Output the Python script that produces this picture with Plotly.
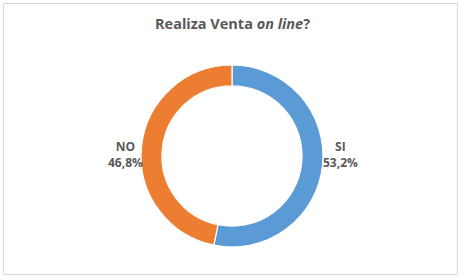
import plotly.graph_objects as go

labels = ["SI", "NO"]
values = [53.2, 46.8]
colors = ["#5B9BD5", "#ED7D31"]
title_text = "Realiza Venta <i>on line</i>?"

W, H = 464, 280
cx, cy, r = 232, 156, 91

fig = go.Figure()
fig.add_trace(go.Pie(
    labels=labels, values=values, hole=0.77, sort=False, direction="clockwise",
    rotation=0, marker=dict(colors=colors, line=dict(color="white", width=1.2)),
    textinfo="none", hoverinfo="label+percent", showlegend=False,
    domain=dict(x=[(cx - r) / W, (cx + r) / W], y=[(H - cy - r) / H, (H - cy + r) / H]),
))

label_pos = {"SI": (340, 154), "NO": (125, 154)}
for lab, val in zip(labels, values):
    x, y = label_pos[lab]
    txt = f"<b>{lab}<br>{val:.1f}%</b>".replace(".", ",")
    fig.add_annotation(x=x / W, y=1 - y / H, xref="paper", yref="paper", text=txt,
                       xanchor="center", yanchor="middle",
                       showarrow=False, align="center",
                       font=dict(family="Open Sans, Liberation Sans, sans-serif", size=12, color="#595959"))

fig.add_annotation(x=0.5, y=1 - 23 / H, xref="paper", yref="paper", text=f"<b>{title_text}</b>",
                   xanchor="center", yanchor="middle",
                   showarrow=False, font=dict(family="Open Sans, Liberation Sans, sans-serif", size=14.5, color="#595959"))

fig.add_shape(type="rect", xref="paper", yref="paper", x0=3.5 / W, x1=457.5 / W, y0=1 - 274.5 / H, y1=1 - 3.5 / H,
              line=dict(color="#D9D9D9", width=1))

fig.update_layout(width=W, height=H, margin=dict(l=0, r=0, t=0, b=0),
                  paper_bgcolor="white", plot_bgcolor="white")
fig.write_html("out.html")
